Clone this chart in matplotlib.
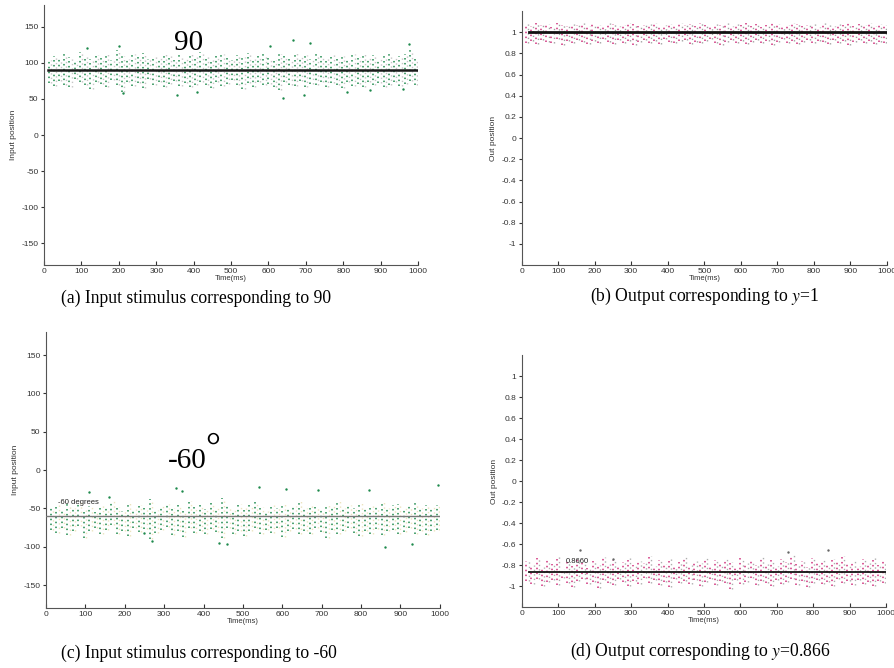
import numpy as np
import matplotlib.pyplot as plt

plt.rcParams['mathtext.fontset'] = 'stix'
plt.rcParams['font.family'] = ['Liberation Sans', 'DejaVu Sans']

# sampling instants of the recorded streaks (ms)
t_ms = [12, 26, 40, 54, 68, 82, 96, 110, 124, 138, 152, 166, 180, 194, 208,
        222, 236, 250, 264, 278, 292, 306, 320, 334, 348, 362, 376, 390, 404,
        418, 432, 446, 460, 474, 488, 502, 516, 530, 544, 558, 572, 586, 600,
        614, 628, 642, 656, 670, 684, 698, 712, 726, 740, 754, 768, 782, 796,
        810, 824, 838, 852, 866, 880, 894, 908, 922, 936, 950, 964, 978, 992]

# (a) input stimulus, target 90
in90_lo = [72, 68, 75, 70, 66, 78, 73, 69, 64, 74, 71, 67, 76, 70, 60, 73,
           68, 72, 65, 77, 70, 74, 67, 71, 75, 68, 72, 66, 70, 74, 69, 65,
           73, 68, 71, 76, 70, 64, 72, 67, 74, 69, 71, 66, 62, 73, 70, 68,
           75, 66, 71, 69, 74, 67, 72, 70, 65, 73, 68, 71, 66, 74, 69, 72,
           67, 70, 73, 68, 71, 75, 69]
in90_hi = [104, 110, 106, 112, 108, 103, 115, 109, 105, 111, 107, 113, 104,
           118, 109, 106, 112, 108, 114, 105, 110, 107, 113, 109, 104, 111,
           106, 112, 108, 115, 110, 105, 109, 113, 107, 104, 111, 108, 114,
           106, 110, 112, 107, 104, 113, 109, 106, 115, 108, 111, 105, 112,
           109, 107, 113, 106, 110, 104, 112, 108, 114, 107, 111, 105, 110,
           113, 107, 109, 112, 118, 106]
in90_out_t = [355, 410, 210, 640, 695, 810, 665, 710, 200, 975, 605, 870,
              960, 115]
in90_out_v = [55, 60, 58, 52, 55, 60, 132, 128, 124, 126, 124, 62, 64, 121]

# (b) output, target y = 1
out1_lo = [0.90, 0.92, 0.89, 0.93, 0.91, 0.90, 0.94, 0.88, 0.92, 0.90, 0.93,
           0.91, 0.89, 0.92, 0.90, 0.94, 0.91, 0.89, 0.93, 0.90, 0.92, 0.88,
           0.91, 0.93, 0.90, 0.92, 0.89, 0.94, 0.91, 0.90, 0.92, 0.93, 0.89,
           0.91, 0.90, 0.92, 0.94, 0.90, 0.88, 0.91, 0.93, 0.90, 0.92, 0.89,
           0.91, 0.93, 0.90, 0.92, 0.88, 0.91, 0.94, 0.90, 0.92, 0.89, 0.91,
           0.93, 0.90, 0.92, 0.91, 0.89, 0.93, 0.90, 0.92, 0.88, 0.91, 0.93,
           0.90, 0.92, 0.89, 0.91, 0.90]
out1_hi = [1.08, 1.06, 1.09, 1.07, 1.08, 1.05, 1.09, 1.07, 1.06, 1.08, 1.07,
           1.09, 1.06, 1.08, 1.07, 1.05, 1.09, 1.08, 1.06, 1.07, 1.09, 1.08,
           1.06, 1.07, 1.08, 1.09, 1.05, 1.07, 1.08, 1.06, 1.09, 1.07, 1.08,
           1.06, 1.09, 1.07, 1.05, 1.08, 1.07, 1.09, 1.06, 1.08, 1.07, 1.09,
           1.06, 1.08, 1.05, 1.07, 1.09, 1.08, 1.06, 1.07, 1.09, 1.08, 1.06,
           1.07, 1.08, 1.05, 1.09, 1.07, 1.06, 1.08, 1.07, 1.09, 1.06, 1.08,
           1.07, 1.09, 1.06, 1.08, 1.07]

# (c) input stimulus, target -60
inm60_lo = [-78, -82, -75, -85, -79, -73, -88, -80, -76, -84, -78, -72, -83,
            -79, -86, -75, -81, -77, -90, -82, -78, -74, -85, -80, -87, -76,
            -82, -79, -84, -77, -81, -88, -75, -83, -79, -86, -80, -76, -84,
            -78, -82, -75, -87, -80, -77, -84, -79, -83, -76, -81, -88, -78,
            -84, -80, -75, -82, -86, -79, -83, -77, -85, -80, -78, -84, -81,
            -76, -83, -79, -85, -80, -78]
inm60_hi = [-50, -46, -54, -44, -49, -42, -52, -47, -55, -45, -50, -40, -48,
            -53, -43, -51, -46, -49, -38, -52, -47, -44, -50, -45, -53, -41,
            -48, -46, -51, -43, -49, -37, -47, -52, -44, -50, -46, -42, -48,
            -53, -45, -49, -43, -51, -47, -40, -50, -45, -48, -52, -44, -47,
            -41, -50, -46, -49, -43, -51, -45, -48, -42, -50, -46, -44, -49,
            -47, -43, -50, -45, -48, -46]
inm60_out_t = [110, 160, 330, 345, 540, 610, 690, 860, 440, 460, 930, 820,
               995, 250, 270]
inm60_out_v = [-28, -35, -24, -27, -22, -25, -26, -100, -95, -97, -96, -26,
               -20, -82, -92]

# (d) output, target y = 0.866
out866_lo = [-0.95, -0.98, -0.93, -1.00, -0.96, -0.94, -0.99, -0.92, -0.97,
             -1.01, -0.95, -0.93, -0.98, -0.96, -1.02, -0.94, -0.97, -0.99,
             -0.93, -0.96, -1.00, -0.95, -0.98, -0.92, -0.97, -0.94, -0.99,
             -0.96, -1.01, -0.93, -0.97, -0.95, -0.98, -0.94, -1.00, -0.96,
             -0.93, -0.99, -0.95, -0.97, -1.03, -0.94, -0.98, -0.96, -0.92,
             -0.99, -0.95, -0.97, -1.00, -0.94, -0.98, -0.96, -0.93, -0.99,
             -0.95, -1.01, -0.97, -0.94, -0.98, -0.96, -1.00, -0.93, -0.97,
             -0.95, -0.99, -0.94, -0.98, -0.96, -1.00, -0.95, -0.97]
out866_hi = [-0.76, -0.80, -0.73, -0.82, -0.75, -0.79, -0.71, -0.84, -0.77,
             -0.81, -0.74, -0.78, -0.83, -0.76, -0.80, -0.72, -0.79, -0.75,
             -0.82, -0.77, -0.73, -0.80, -0.76, -0.78, -0.71, -0.81, -0.75,
             -0.79, -0.74, -0.82, -0.77, -0.72, -0.80, -0.76, -0.78, -0.73,
             -0.81, -0.75, -0.79, -0.74, -0.77, -0.82, -0.73, -0.78, -0.76,
             -0.80, -0.72, -0.79, -0.75, -0.81, -0.74, -0.77, -0.70, -0.79,
             -0.76, -0.82, -0.73, -0.78, -0.75, -0.80, -0.74, -0.77, -0.71,
             -0.79, -0.76, -0.81, -0.74, -0.78, -0.73, -0.80, -0.76]
out866_out_t = [160, 250, 730, 840]
out866_out_v = [-0.66, -0.74, -0.68, -0.66]

captions = ['(a) Input stimulus corresponding to 90',
            r'(b) Output corresponding to $y$=1',
            '(c) Input stimulus corresponding to -60',
            r'(d) Output corresponding to $y$=0.866']

in_ticks = [-150, -100, -50, 0, 50, 100, 150]
out_ticks = [-1, -0.8, -0.6, -0.4, -0.2, 0, 0.2, 0.4, 0.6, 0.8, 1]
out_ticklabels = ['-1', '-0.8', '-0.6', '-0.4', '-0.2', '0', '0.2', '0.4',
                  '0.6', '0.8', '1']
time_ticks = [0, 100, 200, 300, 400, 500, 600, 700, 800, 900, 1000]

GREEN = '#1e8a4c'
PINK = '#d0307c'
GREY = '#b8b8b8'
PALE = '#e6dcae'
DOTS = (0, (1, 2.2))

fig = plt.figure(figsize=(8.95, 6.68), dpi=100)
ax_a = fig.add_axes([0.0492, 0.6033, 0.418, 0.389])
ax_b = fig.add_axes([0.5827, 0.6033, 0.4084, 0.380])
ax_c = fig.add_axes([0.0514, 0.0898, 0.440, 0.413])
ax_d = fig.add_axes([0.5832, 0.0913, 0.4067, 0.377])


def style_axis(ax, ylim, yticks, yticklabels, ylabel):
    ax.set_xlim(0, 1000)
    ax.set_ylim(*ylim)
    for s in ['top', 'right']:
        ax.spines[s].set_visible(False)
    for s in ['left', 'bottom']:
        ax.spines[s].set_color('#555555')
        ax.spines[s].set_linewidth(0.8)
    ax.set_xticks(time_ticks)
    ax.set_yticks(yticks)
    ax.set_yticklabels(yticklabels)
    ax.tick_params(axis='x', direction='in', length=3, labelsize=6,
                   colors='#333333', pad=2)
    ax.tick_params(axis='y', direction='out', length=2.5, labelsize=6,
                   colors='#333333', pad=1.5)
    ax.set_xlabel('Time(ms)', fontsize=5.5, labelpad=0.5, color='#333333')
    ax.set_ylabel(ylabel, fontsize=6, labelpad=3, color='#333333')


def draw_streaks(ax, lo, hi, main_color, back_color):
    t = np.array(t_ms)
    # faint companion streaks sit between the main ones
    ax.vlines(t + 6, lo, hi, colors=back_color, linestyles=DOTS,
              linewidth=1.0, alpha=0.8, zorder=1)
    ax.vlines(t, lo, hi, colors=main_color, linestyles=DOTS,
              linewidth=1.1, zorder=2)


# (a)
draw_streaks(ax_a, in90_lo, in90_hi, GREEN, GREY)
ax_a.scatter(in90_out_t, in90_out_v, s=3, color=GREEN, lw=0, zorder=2)
ax_a.plot([10, 1000], [90, 90], color='#1a1a1a', lw=1.8, zorder=3)
ax_a.text(385, 110, '90', fontsize=21, family='Liberation Serif',
          ha='center', va='bottom')
style_axis(ax_a, (-180, 180), in_ticks, [str(v) for v in in_ticks],
           'Input position')

# (b)
draw_streaks(ax_b, out1_lo, out1_hi, PINK, '#8a8a8a')
ax_b.plot([20, 1000], [1, 1], color='#111111', lw=2.0, zorder=3)
style_axis(ax_b, (-1.2, 1.2), out_ticks, out_ticklabels, 'Out position')

# (c)
draw_streaks(ax_c, inm60_lo, inm60_hi, GREEN, PALE)
ax_c.scatter(inm60_out_t, inm60_out_v, s=3, color=GREEN, lw=0, zorder=2)
ax_c.axhline(-60, color='#777777', lw=1.0, zorder=3)
ax_c.text(30, -44, '-60 degrees', fontsize=5.5, color='#222222', zorder=4)
ax_c.text(358, -5, '-60', fontsize=21, family='Liberation Serif',
          ha='center', va='bottom')
ax_c.text(423, 6, '°', fontsize=27, family='Liberation Serif',
          ha='center', va='bottom')
style_axis(ax_c, (-180, 180), in_ticks, [str(v) for v in in_ticks],
           'Input position')

# (d)
draw_streaks(ax_d, out866_lo, out866_hi, PINK, '#9a9a9a')
ax_d.scatter(out866_out_t, out866_out_v, s=3, color='#666666', lw=0, zorder=2)
ax_d.plot([20, 1000], [-0.866, -0.866], color='#111111', lw=1.3, zorder=3)
ax_d.text(120, -0.78, '0.8660', fontsize=5.5, color='#222222', zorder=4)
style_axis(ax_d, (-1.2, 1.2), out_ticks, out_ticklabels, 'Out position')

# captions under each panel
cap_pos = [(0.219, 0.541), (0.787, 0.541), (0.222, 0.009), (0.782, 0.009)]
for (x, y), txt in zip(cap_pos, captions):
    fig.text(x, y, txt, fontsize=12.7, family='Liberation Serif',
             ha='center', va='bottom')

fig.savefig('out.png', dpi=100)
